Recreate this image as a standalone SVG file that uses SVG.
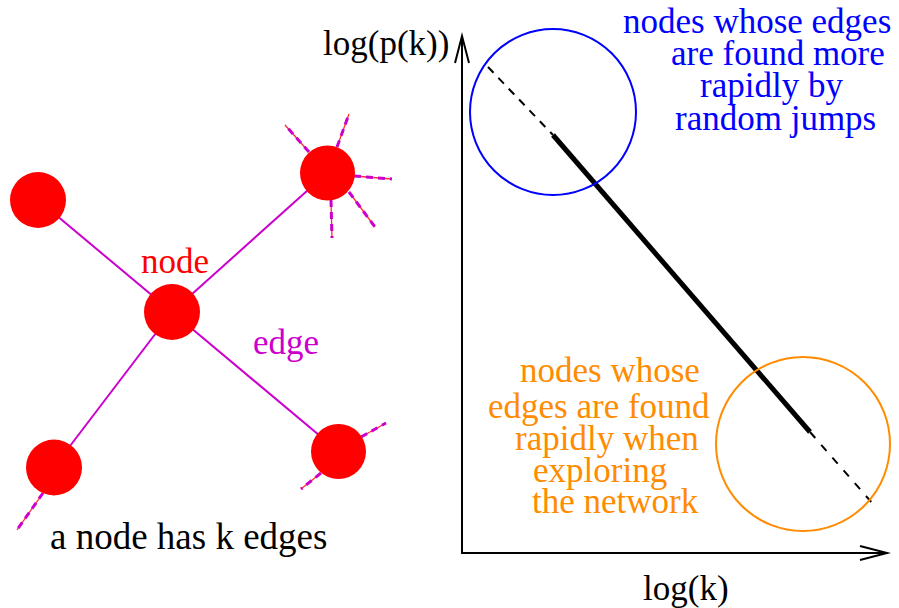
<svg xmlns="http://www.w3.org/2000/svg" width="899" height="608" viewBox="0 0 899 608">
<defs>
<path id="stubPath" d="M309,152 L285,125 M337,147 L349,114 M354,176 L392,179 M349,192 L375,227 M331,200 L332,238 M43,493 L17,530 M361,437 L386,423 M321,473 L301,489"/>
</defs>
<rect width="899" height="608" fill="#ffffff"/>
<g id="connectors" fill="none">
<g id="edges" stroke="#cc00cc" stroke-width="2">
<line x1="38" y1="200" x2="172" y2="312"/>
<line x1="172" y1="312" x2="327" y2="173"/>
<line x1="172" y1="312" x2="54" y2="467"/>
<line x1="172" y1="312" x2="338" y2="451"/>
</g>
<g id="stubs">
<use href="#stubPath" stroke="#ff3030" stroke-width="1.3"/>
<use href="#stubPath" stroke="#cc00cc" stroke-width="3" stroke-dasharray="7 5"/>
</g>
<g id="axes" stroke="#000000" stroke-width="2">
<line x1="462" y1="553" x2="462" y2="37"/>
<polyline points="455,63 462,36 469,63"/>
<line x1="461" y1="553" x2="886" y2="553"/>
<polyline points="860,546 887,553 860,560"/>
</g>
<line x1="488" y1="67" x2="553" y2="135" stroke="#000000" stroke-width="2" stroke-dasharray="8 7"/>
<line x1="553" y1="135" x2="810" y2="432" stroke="#000000" stroke-width="5"/>
<line x1="810" y1="432" x2="873" y2="504" stroke="#000000" stroke-width="2" stroke-dasharray="8 9"/>
</g>
<g id="n1"><circle fill="#ff0000" cx="38" cy="200" r="28"/></g>
<g id="n2"><circle fill="#ff0000" cx="327.5" cy="173" r="27.5"/></g>
<g id="n3"><circle fill="#ff0000" cx="172" cy="312" r="28"/></g>
<g id="n4"><circle fill="#ff0000" cx="54" cy="467.5" r="28"/></g>
<g id="n5"><circle fill="#ff0000" cx="338.5" cy="451.5" r="27.5"/></g>
<g id="blueCircle"><circle cx="553" cy="112" r="83" fill="none" stroke="#0000ff" stroke-width="2"/></g>
<g id="orangeCircle"><circle cx="803" cy="444" r="87" fill="none" stroke="#ff8c00" stroke-width="2"/></g>
<g id="labels">
<text x="141" y="273" fill="#ff0000" font-family="Liberation Serif" font-size="35">node</text>
<text x="253" y="354" fill="#cc00cc" font-family="Liberation Serif" font-size="35">edge</text>
<text x="50" y="549" fill="#000000" font-family="Liberation Serif" font-size="37">a node has k edges</text>
<text x="323" y="55" fill="#000000" font-family="Liberation Serif" font-size="35">log(p(k))</text>
<text x="643" y="600" fill="#000000" font-family="Liberation Serif" font-size="35">log(k)</text>
<text x="623" y="33" fill="#0000ff" font-family="Liberation Serif" font-size="35">nodes whose edges</text>
<text x="671" y="65" fill="#0000ff" font-family="Liberation Serif" font-size="35">are found more</text>
<text x="700" y="97" fill="#0000ff" font-family="Liberation Serif" font-size="35">rapidly by</text>
<text x="675" y="130" fill="#0000ff" font-family="Liberation Serif" font-size="35">random jumps</text>
<text x="520" y="382" fill="#ff8c00" font-family="Liberation Serif" font-size="35">nodes whose</text>
<text x="488" y="418" fill="#ff8c00" font-family="Liberation Serif" font-size="35">edges are found</text>
<text x="515" y="450" fill="#ff8c00" font-family="Liberation Serif" font-size="35">rapidly when</text>
<text x="533" y="482" fill="#ff8c00" font-family="Liberation Serif" font-size="35">exploring</text>
<text x="532" y="513" fill="#ff8c00" font-family="Liberation Serif" font-size="35">the network</text>
</g>
</svg>
